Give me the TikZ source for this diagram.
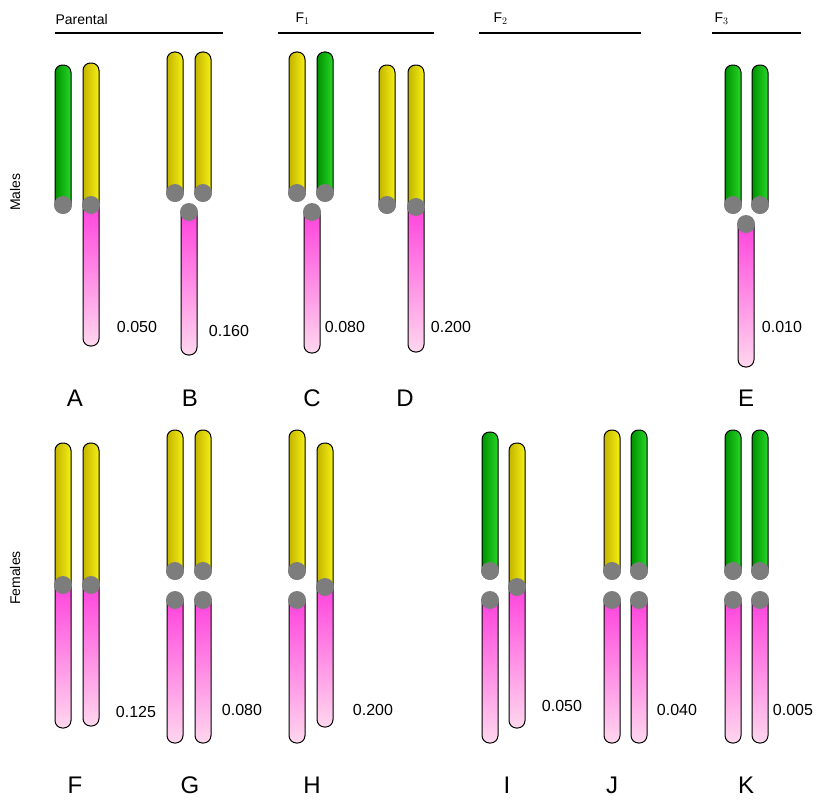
\documentclass[tikz,border=0pt]{standalone}
\usepackage{fontspec}
\setmainfont{Liberation Sans}
\begin{document}
\begin{tikzpicture}[x=1pt,y=-1pt]
\definecolor{YL}{RGB}{195,180,0}\definecolor{YR}{RGB}{245,240,20}
\definecolor{GL}{RGB}{0,145,0}\definecolor{GR}{RGB}{40,215,40}
\definecolor{PT}{RGB}{255,60,220}\definecolor{PB}{RGB}{255,215,238}
\definecolor{CEN}{RGB}{125,125,125}
\tikzset{chr/.style={draw=black,line width=1pt,rounded corners=7.5pt},
  lab/.style={font=\fontsize{16}{16}\selectfont},
  let/.style={font=\fontsize{24}{24}\selectfont},
  hdr/.style={font=\fontsize{14}{14}\selectfont,anchor=south west}}
\newcommand{\uparm}[4]{\draw[chr,left color=#4L,right color=#4R] (#1-8,#2) rectangle (#1+8,#3);}
\newcommand{\lowarm}[3]{\draw[chr,top color=PT,bottom color=PB] (#1-8,#2) rectangle (#1+8,#3);}
\newcommand{\cen}[2]{\fill[CEN] (#1,#2) circle (9pt);}
\useasboundingbox (0,0) rectangle (834,800);
% headers
\node[hdr] (hp) at (52,28) {Parental};
\draw[line width=2.5pt] (55,33) -- (223,33);
\node[hdr] (h1) at (292,28) {F$_1$};
\draw[line width=2.5pt] (278,33) -- (434,33);
\node[hdr] (h2) at (490,28) {F$_2$};
\draw[line width=2.5pt] (479,33) -- (641,33);
\node[hdr] (h3) at (711,28) {F$_3$};
\draw[line width=2.5pt] (712,33) -- (801,33);
\node[rotate=90,font=\fontsize{14}{14}\selectfont] (m) at (15,192) {Males};
\node[rotate=90,font=\fontsize{14}{14}\selectfont] (f) at (15,578) {Females};
% ---- males
% A
\uparm{63}{65}{213}{G}\cen{63}{205}
\uparm{91}{63}{213}{Y}\lowarm{91}{198}{346}\cen{91}{205}
% B
\uparm{175}{52}{201}{Y}\cen{175}{193}
\uparm{203}{52}{201}{Y}\cen{203}{193}
\lowarm{189}{205}{355}\cen{189}{212}
% C
\uparm{297}{52}{201}{Y}\cen{297}{193}
\uparm{325}{52}{201}{G}\cen{325}{193}
\lowarm{312}{205}{353}\cen{312}{212}
% D
\uparm{387}{65}{213}{Y}\cen{387}{205}
\uparm{416}{65}{215}{Y}\lowarm{416}{200}{352}\cen{416}{207}
% E
\uparm{733}{65}{213}{G}\cen{733}{205}
\uparm{760}{65}{213}{G}\cen{760}{205}
\lowarm{746}{217}{367}\cen{746}{224}
% ---- females
% F
\uparm{63}{443}{593}{Y}\lowarm{63}{578}{728}\cen{63}{585}
\uparm{91}{443}{593}{Y}\lowarm{91}{578}{726}\cen{91}{585}
% G
\uparm{175}{430}{579}{Y}\cen{175}{571}
\uparm{203}{430}{579}{Y}\cen{203}{571}
\lowarm{175}{593}{743}\cen{175}{600}
\lowarm{203}{593}{743}\cen{203}{600}
% H
\uparm{297}{430}{579}{Y}\cen{297}{571}
\lowarm{297}{593}{743}\cen{297}{600}
\uparm{325}{443}{595}{Y}\lowarm{325}{580}{727}\cen{325}{587}
% I
\uparm{490}{432}{579}{G}\cen{490}{571}
\lowarm{490}{593}{743}\cen{490}{600}
\uparm{517}{443}{595}{Y}\lowarm{517}{580}{728}\cen{517}{587}
% J
\uparm{612}{430}{579}{Y}\cen{612}{571}
\uparm{639}{430}{579}{G}\cen{639}{571}
\lowarm{612}{593}{743}\cen{612}{600}
\lowarm{639}{593}{743}\cen{639}{600}
% K
\uparm{733}{430}{579}{G}\cen{733}{571}
\uparm{760}{430}{579}{G}\cen{760}{571}
\lowarm{733}{593}{743}\cen{733}{600}
\lowarm{760}{593}{743}\cen{760}{600}
% values
\node[lab] (vA) at (137,327) {0.050};
\node[lab] (vB) at (229,331) {0.160};
\node[lab] (vC) at (345,327) {0.080};
\node[lab] (vD) at (451,327) {0.200};
\node[lab] (vE) at (782,327) {0.010};
\node[lab] (vF) at (136,712) {0.125};
\node[lab] (vG) at (242,710) {0.080};
\node[lab] (vH) at (373,710) {0.200};
\node[lab] (vI) at (562,706) {0.050};
\node[lab] (vJ) at (677,710) {0.040};
\node[lab] (vK) at (793,710) {0.005};
% letters
\node[let] (A) at (75,398) {A};
\node[let] (B) at (190,398) {B};
\node[let] (C) at (312,398) {C};
\node[let] (D) at (405,398) {D};
\node[let] (E) at (746,398) {E};
\node[let] (F) at (75,785) {F};
\node[let] (G) at (190,785) {G};
\node[let] (H) at (312,785) {H};
\node[let] (I) at (507,785) {I};
\node[let] (J) at (612,785) {J};
\node[let] (K) at (746,785) {K};
\end{tikzpicture}
\end{document}
